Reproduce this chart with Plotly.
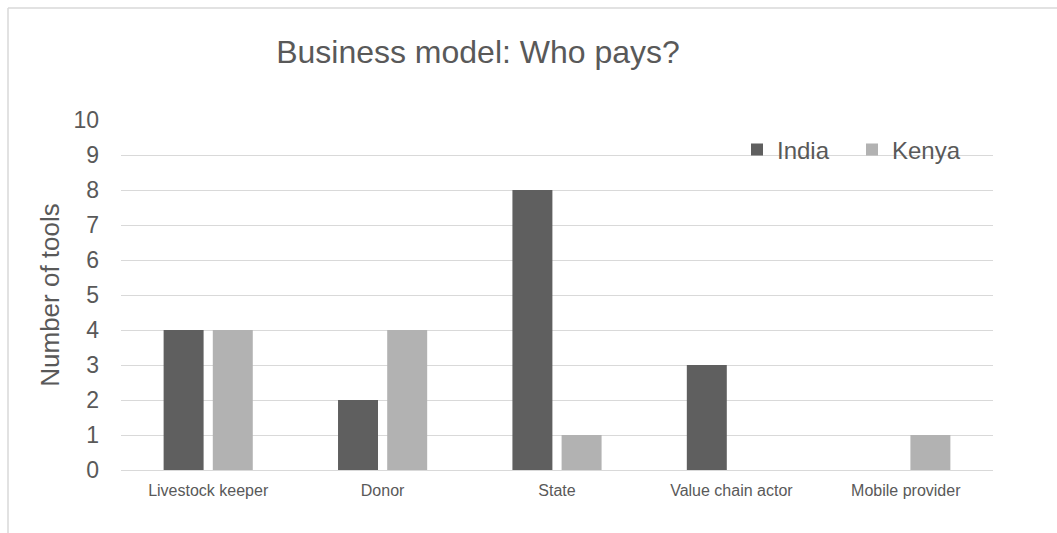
import plotly.graph_objects as go

categories = ["Livestock keeper", "Donor", "State", "Value chain actor", "Mobile provider"]
india = [4, 2, 8, 3, 0]
kenya = [4, 4, 1, 0, 1]
y_ticks = list(range(0, 11))

TXT = "#595959"
fig = go.Figure()
fig.add_trace(go.Bar(name="India", x=categories, y=india, marker_color="#5f5f5f", marker_line_width=0))
fig.add_trace(go.Bar(name="Kenya", x=categories, y=kenya, marker_color="#b2b2b2", marker_line_width=0))

L, R, T, B = 121, 64, 120, 63
W, H = 1057, 533
pw, ph = W - L - R, H - T - B

fig.update_layout(
    width=W, height=H,
    margin=dict(l=L, r=R, t=T, b=B),
    paper_bgcolor="white", plot_bgcolor="white",
    barmode="group", bargap=0.436, bargroupgap=0.187,
    font=dict(family="Liberation Sans, Arial, sans-serif", color=TXT),
    title=dict(text="Business model: Who pays?", x=478 / W, xanchor="center",
               y=1 - 52 / H, yanchor="middle", font=dict(size=32, color=TXT)),
    legend=dict(orientation="h", x=(737 - L) / pw, xanchor="left", y=(H - B - 150) / ph,
                yanchor="middle", font=dict(size=24, color=TXT), bgcolor="rgba(0,0,0,0)",
                itemwidth=30, traceorder="normal", entrywidth=70),
    showlegend=True,
)
fig.update_yaxes(range=[0, 10], tickvals=y_ticks, showgrid=True, gridcolor="#d9d9d9", gridwidth=1,
                 zeroline=False, showline=False, tickfont=dict(size=23, color=TXT),
                 ticklabelstandoff=21,
                 title=dict(text="Number of tools", font=dict(size=26, color=TXT), standoff=6))
fig.update_xaxes(showline=True, linecolor="#d9d9d9", linewidth=1, tickfont=dict(size=16, color=TXT),
                 ticks="", ticklabelstandoff=6)

# chart border (top and left edges visible)
fig.add_shape(type="line", xref="paper", yref="paper",
              x0=(8 - L) / pw, x1=(W + 5 - L) / pw, y0=(H - B - 8) / ph, y1=(H - B - 8) / ph,
              line=dict(color="#d9d9d9", width=1.5))
fig.add_shape(type="line", xref="paper", yref="paper",
              x0=(8 - L) / pw, x1=(8 - L) / pw, y0=(H - B - 8) / ph, y1=-(B + 5) / ph,
              line=dict(color="#d9d9d9", width=1.5))

fig.write_html("out.html")
